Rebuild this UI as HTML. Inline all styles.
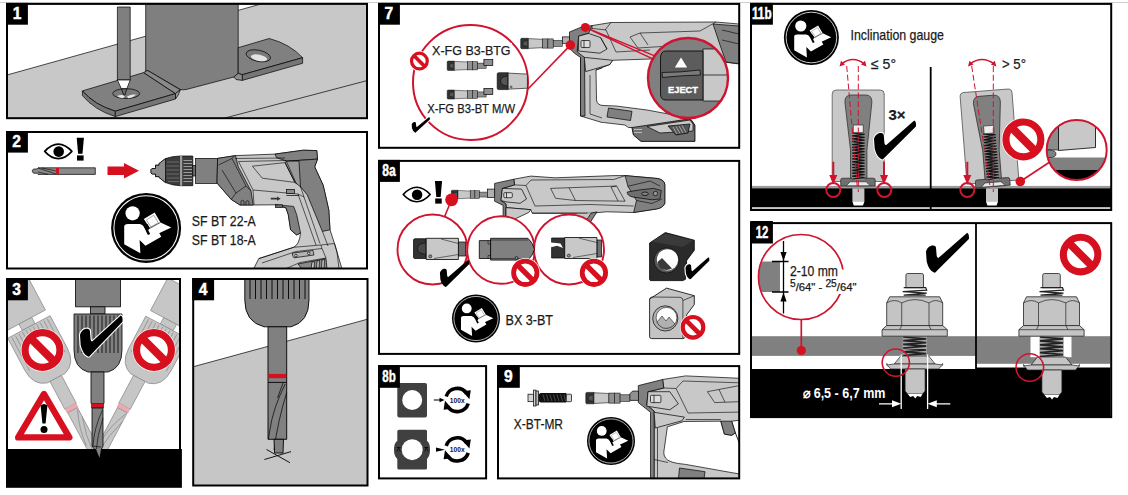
<!DOCTYPE html>
<html lang="en">
<head>
<meta charset="utf-8">
<title>Instruction panels</title>
<style>
html,body{margin:0;padding:0;background:#fff;}
body{width:1128px;height:495px;overflow:hidden;font-family:"Liberation Sans",sans-serif;}
svg{display:block;}
text{font-family:"Liberation Sans",sans-serif;}
.num{font-weight:bold;fill:#fff;font-size:15.6px;stroke:#fff;stroke-width:0.45;}
.t{fill:#1a1a1a;stroke:#1a1a1a;stroke-width:0.25;}
.frame{fill:none;stroke:#000;stroke-width:2;}
.k{stroke:#000;stroke-width:0.7;}
.r{stroke:#cf1430;fill:none;}
</style>
</head>
<body>
<svg width="1128" height="495" viewBox="0 0 1128 495">
<defs>
  <!-- checkmark 43x40 -->
  <path id="chk" d="M0,19 C1,15 4,12.5 7.3,12.8 C9,13 10,14 10,15 L10.7,23.3 Q11,25 12.3,25.3 L41.2,0 Q43.5,1 42.9,6.1 L11.2,37.8 Q9.5,40 8.4,40 Q3,38 0.7,28.9 Z"/>
  <!-- prohibition, unit radius 1 -->
  <g id="no">
    <circle r="1" fill="#fff"/>
    <circle r="0.83" fill="none" stroke="#d7101f" stroke-width="0.34"/>
    <path d="M-0.58,-0.58 L0.58,0.58" stroke="#d7101f" stroke-width="0.38"/>
  </g>
  <!-- book icon r=27.5 -->
  <g id="book">
    <circle r="27.5" fill="#000"/>
    <circle r="25.3" fill="none" stroke="#fff" stroke-width="0.8"/>
    <circle cx="-10.6" cy="-11.5" r="5.6" fill="#fff"/>
    <path d="M-17.2,-1 Q-17.2,-3 -14.3,-3 L-5.1,-3 Q-2.5,-2.6 -1.2,0.3 L1.4,5.6 L9.3,2.3 L11.9,6.9 L-0.5,14.1 L-5.1,9.5 L-4.5,20 L-17.2,12.8 Z" fill="#fff"/>
    <path d="M-1.8,-6.9 L6.7,-12.1 L11.3,-4.3 L19.8,-0.3 L4.3,7 L1.6,1.6 L3,0.3 Z" fill="#fff"/>
    <path d="M0.2,-6.3 L6.1,-9.9 L9.6,-4.1 L3.7,-0.7 Z" fill="#fff" stroke="#777" stroke-width="0.5"/>
    <path d="M3,0.3 L11.3,-4.3" stroke="#000" stroke-width="0.5"/>
    <path d="M-1.6,-1.5 L1,-3 L3,0.3 L0.4,1.9 Z" fill="#000"/>
  </g>
  <!-- eye + exclamation; origin = eye center -->
  <g id="eye">
    <path d="M-13.6,0 Q-7,-7.3 0,-7.3 Q7,-7.3 13.6,0 Q7,7.3 0,7.3 Q-7,7.3 -13.6,0 Z" fill="#fff" stroke="#000" stroke-width="1.7" stroke-linejoin="round"/>
    <circle cx="0.4" cy="0.2" r="5.3" fill="#000"/>
    <path d="M18.4,-13.6 L25.6,-13.6 L24.2,2.4 L19.8,2.4 Z" fill="#000"/>
    <rect x="18.7" y="4" width="6.6" height="5.2" fill="#000"/>
  </g>
<g id="ng">
    <path d="M1.2,0 H7.7 V10.4 H1.2 Q0,10.4 0,9.2 V1.2 Q0,0 1.2,0 Z" fill="#333" stroke="#000" stroke-width="0.5"/>
    <path d="M6.5,2.4 Q2.2,2.6 2.2,5.2 Q2.2,7.8 6.5,8" fill="#555" stroke="#000" stroke-width="0.4"/>
    <path d="M7.7,0.3 L21.9,1 V9.4 L7.7,10.1 Z" fill="#c8c8c8" stroke="#000" stroke-width="0.5"/>
    <rect x="21.9" y="0.6" width="5.3" height="9.2" fill="#909090" stroke="#000" stroke-width="0.5"/>
    <rect x="27.2" y="0.6" width="5.3" height="9.2" fill="#909090" stroke="#000" stroke-width="0.5"/>
    <rect x="32.5" y="2.2" width="9.2" height="5.9" fill="#909090" stroke="#000" stroke-width="0.5"/>
  </g>
  <g id="ngbig">
    <path d="M1.5,0 H11 V16.9 H1.5 Q0,16.9 0,15.4 V1.5 Q0,0 1.5,0 Z" fill="#333" stroke="#000" stroke-width="0.6"/>
    <path d="M10,3.6 Q3.4,4 3.4,8.4 Q3.4,12.8 10,13.2" fill="#555" stroke="#000" stroke-width="0.5"/>
    <path d="M11,0.4 L30.2,1.4 V15.5 L11,16.5 Z" fill="#c8c8c8" stroke="#000" stroke-width="0.6"/>
    <circle cx="14" cy="14.2" r="1" fill="#999" stroke="#000" stroke-width="0.4"/>
  </g>
<g id="rot">
    <path d="M-11,-3.5 A11.5,11.5 0 0 1 9.5,-6.5" fill="none" stroke="#000" stroke-width="3.6"/>
    <path d="M5.2,-8.8 L13.6,-9.8 L12.2,-0.8 Z" fill="#000"/>
    <path d="M11,3.5 A11.5,11.5 0 0 1 -9.5,6.5" fill="none" stroke="#000" stroke-width="3.6"/>
    <path d="M-5.2,8.8 L-13.6,9.8 L-12.2,0.8 Z" fill="#000"/>
    <text x="-7.4" y="2.6" font-size="7.4" font-weight="bold" fill="#1a1040" textLength="14.8" lengthAdjust="spacingAndGlyphs">100x</text>
  </g>
<g id="gauge">
    <path d="M-26,-4.5 V-92 Q-26,-96 -22,-96 H22 Q26,-96 26,-92 V-4.5 Z" fill="#c8c8c8" stroke="#555" stroke-width="0.8"/>
    <path d="M-13.3,-84 Q-13.3,-91 -7,-91 H7.5 Q13.7,-91 13.7,-84 L8.7,-36 V-7 H-7.7 V-36 Z" fill="#808080" stroke="#333" stroke-width="0.8"/>
    <path d="M-17.5,0 V-6 Q-17.5,-7.8 -15.5,-7.8 H15 Q17,-7.8 17,-6 V0 Z" fill="#707070" stroke="#222" stroke-width="0.7"/>
    <path d="M-12,-0.2 L-8,-4.2 H8 L12,-0.2 Z" fill="#e8e8e8" stroke="#222" stroke-width="0.6"/>
    <rect x="-6.2" y="-53.3" width="12.6" height="47" fill="#8a8a8a"/>
    <path d="M-6,-53 L6.4,-51.6 L-6,-50.1 L6.4,-48.7 L-6,-47.2 L6.4,-45.8 L-6,-44.4 L6.4,-42.9 L-6,-41.5 L6.4,-40.1 L-6,-38.6 L6.4,-37.2 L-6,-35.8 L6.4,-34.3 L-6,-32.9 L6.4,-31.4 L-6,-30.0 L6.4,-28.6 L-6,-27.1 L6.4,-25.7 L-6,-24.2 L6.4,-22.8 L-6,-21.4 L6.4,-19.9 L-6,-18.5 L6.4,-17.1 L-6,-15.6 L6.4,-14.2 L-6,-12.8 L6.4,-11.3 L-6,-9.9 L6.4,-8.4 L-6,-7.0 " fill="none" stroke="#111" stroke-width="1.2"/>
    <rect x="-5" y="-61" width="10" height="7.7" fill="#eee" stroke="#333" stroke-width="0.7"/>
  </g>
<g id="nut">
    <!-- origin: center x, y = band top (336.2) -->
    <path d="M-8.8,-48.5 V-61 Q-8.8,-62.7 -7,-62.7 H7 Q8.8,-62.7 8.8,-61 V-48.5 Z" fill="#c4c4c4" stroke="#222" stroke-width="0.8"/>
    <path d="M-11,-48.5 H11 L12,-46 L-12,-44.5 L12,-43 L-11,-41 H11" fill="none" stroke="#222" stroke-width="1.2"/>
    <path d="M-25,-39.4 L-28,-33.3 V-10.6 H28 V-33.3 L25,-39.4 Z" fill="#c4c4c4" stroke="#222" stroke-width="0.8"/>
    <path d="M-13,-10.6 V-33.3 Q-20,-38 -28,-33.3 M14.3,-10.6 V-33.3 Q21,-38 28,-33.3 M-13,-33.3 Q0,-40 14.3,-33.3" fill="none" stroke="#222" stroke-width="0.7"/>
    <path d="M-32.6,0 V-6.5 L-28,-10.6 H28 L32.6,-6.5 V0 Z" fill="#c4c4c4" stroke="#222" stroke-width="0.8"/>
    <path d="M-32.6,-6.5 H32.6 M-13,-10.6 L-15,-6.5 M14.3,-10.6 L16.5,-6.5" fill="none" stroke="#222" stroke-width="0.7"/>
  </g>
</defs>
<rect width="1128" height="495" fill="#fff"/>
<line x1="0" y1="2.5" x2="1128" y2="2.5" stroke="#cfcfcf" stroke-width="1"/>

<!-- ================= PANEL 1 ================= -->
<g id="p1">
  <clipPath id="c1"><rect x="7" y="4.5" width="360" height="113.5"/></clipPath>
  <g clip-path="url(#c1)">
    <polygon points="7,75 261,4 367,4 367,119 7,119" fill="#c8c8c8"/>
    <path d="M7,75 L261,4" class="k" fill="none"/>
    <path d="M367,80.6 L225,118" class="k" fill="none"/>
    <!-- column -->
    <path d="M145.7,4 L238.2,4 L238.2,73.3 L233.8,77 L187,89.3 Q182,90.2 180.3,89.5 L147.8,70.6 L145.7,71.2 Z" fill="#7f7f7f" class="k"/>
    <!-- right plate -->
    <path d="M238.2,47.7 L269.2,38.5 Q290,44 302.6,57.7 L242.3,74.7 L238.2,73.3 Z" fill="#808080" class="k"/>
    <path d="M302.6,57.7 L302.6,63.3 L242.3,80.4 L242.3,74.7 Z" fill="#767676" class="k"/>
    <path d="M242.3,74.7 L242.3,80.4 L236,79.5 L233.8,77 L238.2,73.3 Z" fill="#8c8c8c" class="k"/>
    <ellipse cx="258.3" cy="55.8" rx="12.4" ry="5.6" transform="rotate(12 258.3 55.8)" fill="#7a7a7a" class="k"/>
    <ellipse cx="259" cy="57.8" rx="8.2" ry="3.2" transform="rotate(12 259 57.8)" fill="#e4e4e4"/>
    <!-- left plate -->
    <path d="M82.4,90.9 L143.7,72.6 L175.5,93.6 L115.3,111.2 Q94.4,105 82.4,90.9 Z" fill="#808080" class="k"/>
    <path d="M82.4,90.9 Q94.4,105 115.3,111.2 L115.3,116.6 Q94.4,110 82.4,95.6 Z" fill="#767676" class="k"/>
    <path d="M115.3,111.2 L175.5,93.6 L175.5,99 L115.3,116.6 Z" fill="#767676" class="k"/>
    <path d="M143.7,72.6 L145.8,71.2 L147.8,70.6 L180.3,89.8 L175.5,93.6 Z" fill="#8a8a8a" class="k"/>
    <path d="M175.5,93.6 L180.3,89.8 L178.3,94.9 L175.5,99 Z" fill="#999" class="k"/>
    <!-- hole -->
    <ellipse cx="126.2" cy="93.6" rx="13.5" ry="4.9" fill="#7a7a7a" class="k"/>
    <path d="M117,96 Q122,94 125,96 L123,98.2 Q119,98 117,96 Z" fill="#e8e8e8"/>
    <path d="M127,96.5 Q131,94 136,94.5 Q134,97.5 128,98.2 Z" fill="#e8e8e8"/>
    <!-- pencil -->
    <path d="M117.4,7 L130.2,7 L130.2,80 L117.4,80 Z" fill="#7f7f7f" class="k"/>
    <path d="M117.4,80 L130.2,80 L126.8,88.8 L121.4,88.8 Z" fill="#fff" class="k"/>
    <path d="M121.4,88.8 L126.8,88.8 L125,95 L123.6,95 Z" fill="#6a6a6a" class="k"/>
  </g>
  <rect x="7" y="3.9" width="360" height="114.3" class="frame"/>
  <rect x="6" y="2.9" width="21.9" height="21.8" fill="#000"/>
  <text x="17" y="19.1" class="num" text-anchor="middle">1</text>
</g>

<!-- ================= PANEL 2 ================= -->
<g id="p2">
  <clipPath id="c2"><rect x="7" y="132" width="360" height="136.5"/></clipPath>
  <g clip-path="url(#c2)">
    <!-- drill bit -->
    <path d="M32,171 L33.5,169 L37,169 L38,167.8 L95.3,167.8 L95.3,174.4 L38,174.4 L37,173.2 L33.5,173.2 Z" fill="#8a8a8a" class="k"/>
    <path d="M38,168 L56,174 M42,168 L56,171 M38,172 L48,174.4" stroke="#000" stroke-width="0.6" fill="none"/>
    <rect x="56" y="168" width="3" height="6.2" fill="#d7101f"/>
    <!-- red arrow -->
    <path d="M107.5,166.5 L124,166.5 L124,163 L139,170.8 L124,178.5 L124,175 L107.5,175 Z" fill="#d7101f"/>
    <!-- chuck -->
    <path d="M151,169.5 L152,168.5 L155.5,168.5 L155.5,165.2 L159,165.2 L159,163.6 L165.5,158.6 Q172,156.2 180,156 L192.8,156 L192.8,185.7 L180,185.7 Q172,185.4 165.5,182.6 L159,177.4 L159,176.6 L155.5,176.6 L155.5,174 L152,174 L151,173 Z" fill="#3c3c3c" class="k"/>
    <path d="M151,169.5 L152,168.5 L155.5,168.5 L155.5,165.2 L159,165.2 L159,163.6 L165.5,158.6 L165.5,182.6 L159,177.4 L159,176.6 L155.5,176.6 L155.5,174 L152,174 L151,173 Z" fill="#8c8c8c" class="k"/>
    <rect x="180" y="156" width="2.2" height="29.7" fill="#9a9a9a"/>
    <g stroke="#9a9a9a" stroke-width="1.1">
      <path d="M183.5,160.5 H192 M183.5,163.5 H192 M183.5,166.5 H192 M183.5,169.5 H192 M183.5,172.5 H192 M183.5,175.5 H192 M183.5,178.5 H192 M183.5,181.5 H192"/>
      <path d="M167,162 H179 M166.5,166 H179 M166.5,170 H179 M166.5,174 H179 M167,178 H179 M168,181.5 H179" stroke-width="0.8" stroke="#777"/>
    </g>
    <rect x="192.8" y="165.5" width="3" height="10.5" fill="#6e6e6e" class="k"/>
    <rect x="195.6" y="158.4" width="22" height="25" fill="#808080" class="k"/>
    <!-- body silhouette light -->
    <path d="M217.6,158.4 L235.5,155.6 L275,154.1 L303.4,150.2 L316.8,150.6 L317.5,159.1 L314.7,166.9 L323.2,185.3 L328.8,210 L330,229.8 L334.5,243.5 L342,269 L253.5,269 L258.8,258.6 L293.6,247.3 Q299.5,244.5 300.5,232.9 L296.7,235 L290.6,229.8 L288.3,214.7 L286,207.9 L275.5,204.8 L253.1,205 L240,205 L231.2,199.4 L217,183 Z" fill="#c8c8c8" class="k"/>
    <!-- front dark -->
    <path d="M217.6,158.4 L235.5,155.6 L238.3,166.9 L251,190.9 L253.1,205 L240,205 L231.2,199.4 L217,183 Z" fill="#808080" class="k"/>
    <path d="M218.5,165 L232,158.5 L234,156 M232,158.5 L246,186 L251,190.9 M246,186 L236,193 L231.2,199.4 M222,170 L236,193" stroke="#000" stroke-width="0.6" fill="none"/>
    <path d="M241,205 L241,201 Q242.5,199.5 244,201 L244,205 M246,205 L246,201.5 Q247.5,200 249,201.5 L249,205" stroke="#000" stroke-width="0.6" fill="none"/>
    <!-- top cap -->
    <path d="M275,154.1 L303.4,150.2 L316.8,150.6 L317.5,159.1 L287,161.2 L276.5,157.7 Z" fill="#808080" class="k"/>
    <!-- rear dark -->
    <path d="M287,161.2 L317.5,159.1 L314.7,166.9 L323.2,185.3 L328.8,210 L330,229.8 L322.4,231.4 L307.3,195 L300.5,186.7 Z" fill="#808080" class="k"/>
    <path d="M287,161.2 L299,161 L300.5,186.7 L294.9,182.4 L285,162.6 Z" fill="#9a9a9a" class="k"/>
    <!-- panel lines -->
    <path d="M235.5,158.5 L285,158 M238.5,161.5 L286,160.5 L296.5,184 M238.5,161.5 L250,184 L253,190 L298,194 L304,197 M252.4,166.2 L285,162.6 L294.9,182.4 L262.3,178.2 Z M253,190 L254,205 M300.5,186.7 L304,197 L320,243.5 M298,194 L316,245 M322.4,231.4 L328,246" stroke="#000" stroke-width="0.6" fill="none"/>
    <!-- button + arrow -->
    <rect x="286.4" y="189.5" width="8" height="4" fill="#8c8c8c" class="k"/>
    <path d="M286.4,195.5 H299" class="k" fill="none"/>
    <path d="M270.8,197.8 H277 V196.6 L280.7,198.7 L277,200.8 V199.6 H270.8 Z" fill="#333"/>
    <!-- trigger -->
    <path d="M275.5,204.8 L293.6,206.4 L296.7,214.7 L300.5,232.9 L296.7,235 L290.6,229.8 L288.3,214.7 L286,207.9 Z" fill="#808080" class="k"/>
    <rect x="275.5" y="204.8" width="7" height="2.6" fill="#6e6e6e" class="k"/>
    <!-- base -->
    <path d="M258.8,258.6 L293.6,247.3 L320.9,245 L334.5,243.5 M262,263 L296,251.5 L322,248.5 L326,258 L300,262.5 L285,269 M322,248.5 L320.9,245 M334.5,243.5 L337,252 L339,269" stroke="#000" stroke-width="0.6" fill="none"/>
    <path d="M292.5,253 L313,250.5 L314,255 L294,257.8 Q292,256 292.5,253 Z" fill="#b4b4b4" class="k"/>
    <circle cx="295.9" cy="255.6" r="1.3" fill="#ddd" class="k"/><circle cx="308.8" cy="253.3" r="1.3" fill="#ddd" class="k"/>
    <path d="M298,264 L326,258.5 L327,269 L302,269 Z" fill="#8a8a8a" class="k"/>
    <path d="M312,262 L314.5,261.5 L314,269 L311,269 Z M317,261 L319.5,260.5 L319,269 L316.5,269 Z M322,260 L324.5,259.5 L324,269 L321.5,269 Z" fill="#c8c8c8" class="k"/>
  </g>
  <use href="#eye" transform="translate(58.3,151.4)"/>
  <use href="#book" transform="translate(146.1,227.9) scale(1.273)"/>
  <text x="191.8" y="225.8" class="t" font-size="14.8" textLength="64" lengthAdjust="spacingAndGlyphs">SF BT 22-A</text>
  <text x="191.8" y="245.3" class="t" font-size="14.8" textLength="64" lengthAdjust="spacingAndGlyphs">SF BT 18-A</text>
  <rect x="7" y="132" width="360" height="136.5" class="frame"/>
  <rect x="6" y="131" width="21.9" height="21.6" fill="#000"/>
  <text x="16.7" y="147.1" class="num" text-anchor="middle">2</text>
</g>

<!-- ================= PANEL 3 ================= -->
<g id="p3">
  <clipPath id="c3"><rect x="7" y="279" width="174" height="208"/></clipPath>
  <g clip-path="url(#c3)">
    <g transform="rotate(-28 97.5 457) translate(0,-4)" fill="#c6c6c6" stroke="#8a8a8a" stroke-width="0.7">
      <path d="M75.5,270 H120.5 V306.8 H75.5 Z"/>
      <path d="M90.5,306.8 H105 V314 H90.5 Z"/>
      <path d="M74,314 L122,314 L122,350 Q122,368 108,372 L88,372 Q74,368 74,350 Z"/>
      <path d="M78,315.5 V353 M82,315.5 V353 M86,315.5 V353 M90,315.5 V353 M94,315.5 V353 M98,315.5 V353 M102,315.5 V353 M106,315.5 V353 M110,315.5 V353 M114,315.5 V353 M118,315.5 V353" fill="none"/>
      <path d="M91,372 H104 V403.5 H91 Z"/>
      <path d="M91,403.5 H104 V408 H91 Z" fill="#f2a6b0" stroke="none"/>
      <path d="M92,408 H103 V450 L100,461 H96 L92,450 Z"/>
      <path d="M102,410 Q94,428 93,446 M103,418 Q97,436 96,455" fill="none"/>
    </g>
    <g transform="rotate(28 97.5 457) translate(0,-4)" fill="#c6c6c6" stroke="#8a8a8a" stroke-width="0.7">
      <path d="M75.5,270 H120.5 V306.8 H75.5 Z"/>
      <path d="M90.5,306.8 H105 V314 H90.5 Z"/>
      <path d="M74,314 L122,314 L122,350 Q122,368 108,372 L88,372 Q74,368 74,350 Z"/>
      <path d="M78,315.5 V353 M82,315.5 V353 M86,315.5 V353 M90,315.5 V353 M94,315.5 V353 M98,315.5 V353 M102,315.5 V353 M106,315.5 V353 M110,315.5 V353 M114,315.5 V353 M118,315.5 V353" fill="none"/>
      <path d="M91,372 H104 V403.5 H91 Z"/>
      <path d="M91,403.5 H104 V408 H91 Z" fill="#f2a6b0" stroke="none"/>
      <path d="M92,408 H103 V450 L100,461 H96 L92,450 Z"/>
      <path d="M102,410 Q94,428 93,446 M103,418 Q97,436 96,455" fill="none"/>
    </g>
    <g fill="#808080" stroke="#000" stroke-width="0.8">
      <path d="M75.5,270 H120.5 V306.8 H75.5 Z"/>
      <path d="M90.5,306.8 H105 V314 H90.5 Z"/>
      <path d="M74,314 L122,314 L122,350 Q122,368 108,372 L88,372 Q74,368 74,350 Z"/>
      <path d="M78,315.5 V353 M82,315.5 V353 M86,315.5 V353 M90,315.5 V353 M94,315.5 V353 M98,315.5 V353 M102,315.5 V353 M106,315.5 V353 M110,315.5 V353 M114,315.5 V353 M118,315.5 V353" fill="none"/>
      <path d="M91,372 H104 V403.5 H91 Z"/>
      <path d="M91,403.5 H104 V408 H91 Z" fill="#d7101f" stroke="none"/>
      <path d="M92,408 H103 V446 L101,450 L99.5,458 H96 L95,450 L92,446 Z"/>
      <path d="M102.5,410 Q94,428 93,446 M103,418 Q97,436 96,452 M92,446 L101,447" fill="none" stroke-width="0.6"/>
    </g>
    <rect x="6" y="449" width="176" height="39" fill="#000"/>
    <path d="M96,449 L99.5,458 L101,449 Z" fill="#808080"/>
    <use href="#chk" transform="translate(80,315.5) scale(0.99,1.03)" fill="#fff" stroke="#fff" stroke-width="2.2" stroke-linejoin="round"/>
    <use href="#chk" transform="translate(80,315.5) scale(0.99,1.03)" fill="#000"/>
    <circle cx="42.5" cy="350" r="21.6" fill="#fff"/>
    <use href="#no" transform="translate(42.5,350) scale(21)"/>
    <circle cx="154" cy="350" r="21.6" fill="#fff"/>
    <use href="#no" transform="translate(154,350) scale(21)"/>
    <path d="M44,394 L69.3,437.4 L18.2,437.4 Z" fill="#fff" stroke="#d7101f" stroke-width="6.4" stroke-linejoin="round"/>
    <path d="M40.6,405.5 Q44,402.5 47.4,405.5 L45.6,423.5 L42.4,423.5 Z" fill="#000"/>
    <circle cx="44" cy="429.5" r="3.5" fill="#000"/>
  </g>
  <path d="M7,449 V279 H180 V449" class="frame"/>
  <rect x="6" y="449" width="175.9" height="38.8" fill="#000"/>
  <path d="M96,449 L99.5,458 L101,449 Z" fill="#808080"/>
  <rect x="6" y="278" width="21.9" height="22.3" fill="#000"/>
  <text x="16.7" y="294.6" class="num" text-anchor="middle">3</text>
</g>

<!-- ================= PANEL 4 ================= -->
<g id="p4">
  <clipPath id="c4"><rect x="193" y="279" width="174.5" height="207"/></clipPath>
  <g clip-path="url(#c4)">
    <polygon points="193,366.8 367.5,319.2 367.5,487 193,487" fill="#c6c6c6"/>
    <path d="M193,366.8 L367.5,319.2" class="k" fill="none"/>
    <path d="M244.8,270 L309,270 L309,300 Q309,322 291,326.8 L264,326.8 Q244.8,322 244.8,300 Z" fill="#808080" stroke="#000" stroke-width="0.9"/>
    <path d="M250.0,279 V299 M255.5,279 V299 M261.0,279 V299 M266.5,279 V299 M272.0,279 V299 M277.5,279 V299 M283.0,279 V299 M288.5,279 V299 M294.0,279 V299 M299.5,279 V299 M305.0,279 V299" stroke="#000" stroke-width="0.9" fill="none"/>
    <path d="M268,326.8 H286.7 V439.3 H268 Z" fill="#808080" stroke="#000" stroke-width="0.9"/>
    <rect x="268.4" y="373.9" width="17.9" height="4.3" fill="#d7101f"/>
    <path d="M268,382.4 H286.7" stroke="#000" stroke-width="0.9"/>
    <path d="M285.2,384 Q273,408 269.7,430.8 M286.7,392.6 Q278,420 274,450 M269.7,430.8 L268.5,439 M283,383 L277.5,398" stroke="#000" stroke-width="0.7" fill="none"/>
    <path d="M274,439.3 H283.5 L283,453 H274.6 Z" fill="#808080" stroke="#000" stroke-width="0.9"/>
    <path d="M264.4,459.5 L291,451.6 M266.5,449.5 L289.9,462.7" stroke="#000" stroke-width="0.9"/>
  </g>
  <rect x="193.2" y="279" width="174.3" height="206.5" class="frame"/>
  <rect x="192.2" y="278" width="21.9" height="22.3" fill="#000"/>
  <text x="203" y="294.6" class="num" text-anchor="middle">4</text>
</g>

<!-- ================= PANEL 7 ================= -->
<g id="p7">
  <clipPath id="c7"><rect x="379" y="4.5" width="359.5" height="143"/></clipPath>
  <clipPath id="c7e"><circle cx="688" cy="78" r="40"/></clipPath>
  <g clip-path="url(#c7)">
    <!-- tool body -->
    <path d="M592,25.6 L611,22.5 L716,22 L739,24 L739,64 L724,62 L650,59 L612.6,60.3 L609.8,64.5 L596,70 L596.5,100 Q597,105 603,105.5 L616,106 L647,110 L690,118 L694.8,125 L694.8,141.3 L641,141.3 L633.5,135 L632,127.5 L628.5,127.5 L624.8,125 L603.5,122.5 L602,122.5 L580.5,116 L580.5,57 L577.2,51.8 L578.6,36.2 L592,28.4 Z" fill="#c8c8c8" class="k"/>
    <!-- nose dark -->
    <path d="M569.5,32 L581.5,27 L592,25.6 L588.5,33.4 L578.6,36.2 L577.2,51.8 L584.5,57.4 L585,116 L580.5,116 L580.5,57.4 L574.4,53.2 L569.5,48.2 Z" fill="#808080" class="k"/>
    <path d="M578.6,36.2 L588.5,33.4 L600.6,37.6 L607,49 L599.9,53.2 L578.6,51 Z" fill="#c8c8c8" class="k"/>
    <rect x="581" y="40.5" width="9" height="7" rx="1" fill="#ddd" class="k"/>
    <path d="M584,40.5 V47.5" class="k"/>
    <path d="M584.3,57.4 L612.6,60.3 L609.8,64.5 L585.7,71.6 Z" fill="#c8c8c8" class="k"/>
    <!-- body lines -->
    <path d="M592,28.4 L606,30 L616,52 L650,50 M600.6,37.6 L607,49 M611,22.5 L605,30 M630,37 L640,33 L700,31 L716,22 M630,37 L638,48 L670,46 M640,33 L648,45 M596,70 L602,68 M590,75 V114 L602,118" stroke="#000" stroke-width="0.6" fill="none"/>
    <!-- rear dark -->
    <path d="M713,24 L739,26 L739,63.7 L726,62 L720,45 Z" fill="#808080" class="k"/>
    <path d="M722,30 L739,34 M722,40 L739,44" stroke="#000" stroke-width="0.6"/>
    <!-- label -->
    <path d="M608.5,108 L632,111.3 L630.5,120.5 L607,117 Z" fill="#808080" class="k"/>
    <!-- battery -->
    <path d="M632,127.5 L689.8,118.8 L694.8,125 L694.8,141.3 L641,141.3 L633.5,135 Z" fill="#707070" class="k"/>
    <path d="M647,126.5 L690,120 L693,124 L693,131 L660,133 Z" fill="#c8c8c8" class="k"/>
    <path d="M634,129.5 H642 M634,132.5 H642" stroke="#bbb" stroke-width="1"/>
    <path d="M668,126 L676,135 L688,133 L690,124 Z" fill="#555" class="k"/>
    <path d="M673,127 L677,134 M676,126.5 L680,133.5 M679,126 L683,133 M682,125.5 L686,132.5" stroke="#ccc" stroke-width="0.7"/>
    <!-- nail guide on tool -->
    <rect x="562.4" y="36.9" width="7.1" height="6.4" fill="#b0b0b0" class="k"/>
    <use href="#ng" transform="translate(520.7,38.3)"/>
    <!-- connecting lines -->
    <path d="M570.4,45.1 L527.5,89.5" stroke="#cf1430" stroke-width="1.6"/>
    <path d="M585.3,27.4 L654.7,55.9 M585.3,27.4 L652.8,58.9" stroke="#cf1430" stroke-width="1.5"/>
    <circle cx="585.3" cy="27.4" r="4.5" fill="#d7101f"/>
    <circle cx="570.4" cy="45.1" r="4.8" fill="#d7101f"/>
    <!-- EJECT circle -->
    <circle cx="688" cy="78" r="40" fill="#808080"/>
    <g clip-path="url(#c7e)">
      <path d="M703,49 H730 V101 H703 Z" fill="#c8c8c8" stroke="#000" stroke-width="0.7"/>
      <path d="M703,75 H730" stroke="#000" stroke-width="0.7"/>
      <path d="M666,51 H703 V100 H666 Q660.5,100 660.5,94 V58 Q660.5,51 666,51 Z" fill="#5c5c5c" stroke="#000" stroke-width="0.8"/>
      <path d="M662,72.5 Q680,72.5 700,70 L700.5,75 Q680,75.5 662.5,77.5 Z" fill="#7a7a7a" stroke="#000" stroke-width="0.7"/>
      <path d="M681,57.5 L687.2,67.5 L674.8,67.5 Z" fill="#fff"/>
      <text x="668" y="92.6" font-size="8.2" font-weight="bold" fill="#fff" stroke="#fff" stroke-width="0.35" textLength="30" lengthAdjust="spacingAndGlyphs">EJECT</text>
    </g>
    <circle cx="688" cy="78" r="40" fill="none" stroke="#cf1430" stroke-width="2.4"/>
  </g>
  <!-- left circle -->
  <circle cx="470.5" cy="82.5" r="57.5" fill="none" stroke="#cf1430" stroke-width="2"/>
  <use href="#ng" transform="translate(447.2,61.1) scale(0.934,0.9)"/>
  <rect x="483.9" y="59.6" width="8.9" height="6" fill="#909090" class="k"/>
  <use href="#ng" transform="translate(447.2,90) scale(0.934,0.87)"/>
  <rect x="483.9" y="88.5" width="8.9" height="6" fill="#909090" class="k"/>
  <use href="#ngbig" transform="translate(497.2,72.7)"/>
  <circle cx="419.4" cy="61.1" r="10.3" fill="#fff"/>
  <use href="#no" transform="translate(419.4,61.1) scale(9.5)"/>
  <use href="#chk" transform="translate(411.7,117.1) scale(0.423,0.39)" fill="#fff" stroke="#fff" stroke-width="5"/>
  <use href="#chk" transform="translate(411.7,117.1) scale(0.423,0.39)" fill="#000"/>
  <rect x="430" y="43" width="82" height="14" fill="#fff"/>
  <rect x="425" y="102" width="92" height="13.5" fill="#fff"/>
  <text x="432.1" y="54.9" class="t" font-size="13.7" textLength="78.5" lengthAdjust="spacingAndGlyphs">X-FG B3-BTG</text>
  <text x="427.2" y="113.3" class="t" font-size="13.7" textLength="87.8" lengthAdjust="spacingAndGlyphs">X-FG B3-BT M/W</text>
  <rect x="379" y="3.9" width="360.2" height="143.9" class="frame"/>
  <rect x="378" y="2.9" width="21.9" height="21.8" fill="#000"/>
  <text x="388.8" y="19.1" class="num" text-anchor="middle">7</text>
</g>

<!-- ================= PANEL 8a ================= -->
<g id="p8a">
  <clipPath id="c8a"><rect x="379" y="161" width="360" height="192"/></clipPath>
  <g clip-path="url(#c8a)">
    <!-- tool -->
    <path d="M513.8,179.2 L530.8,176.1 L554.9,177.8 L613.8,175.6 L625.1,175.6 L657.7,178.5 Q664.8,180 664.8,184.9 L664.8,203.3 Q663,208 656.3,209 L633.6,212.5 L606.7,211.8 L591,213.2 L532.2,213.2 L530.8,209.7 L506,207.6 L506,204 L501,200.5 L502.4,188.4 L514.5,184.9 Z" fill="#c8c8c8" class="k"/>
    <path d="M591,213.2 L586.8,219.6 L590,245 L578,245 L577,213.2 Z" fill="#c8c8c8"/>
    <path d="M494.6,183.4 L513.8,179.2 L514.5,184.9 L502.4,188.4 L501,200.5 L506,204 L505.2,245 L503.1,245 L503.1,205.4 L494.6,201.2 Z" fill="#808080" class="k"/>
    <path d="M502.4,188.4 L521.6,189.1 L526.5,199 L520.1,203.3 L506,201.9 L501,200.5 Z" fill="#c8c8c8" class="k"/>
    <rect x="503.8" y="192.7" width="8.5" height="5" rx="1" fill="#ddd" class="k"/>
    <path d="M506.5,192.7 V197.7" class="k"/>
    <path d="M506,207.6 L530.8,209.7 L528.7,212.5 L516.6,218.2 L506,222 Z" fill="#c8c8c8" class="k"/>
    <path d="M514.5,184.9 L526,185.5 L535,206 L590,204.5 L633.6,206 M526,185.5 L531,180 L613.8,179.5 L625.1,175.6 M550.6,188.4 L616.6,186 L625.1,201.2 L575.5,200.5 L555.6,198.3 Z M569,187.8 L575.5,200.5 M616.6,186 L611,187 L618,201 M532.2,213.2 L587.5,213.2" stroke="#000" stroke-width="0.6" fill="none"/>
    <path d="M591,213.2 L597,211.9 L590.5,222 L594,245 L590,245 L586.8,219.6 Z" fill="#808080" class="k"/>
    <!-- rear dark -->
    <path d="M625.1,175.6 L657.7,178.5 Q664.8,180 664.8,184.9 L664.8,203.3 Q663,208 656.3,209 L633.6,212.5 L636.5,200.5 L627.9,186.3 Z" fill="#808080" class="k"/>
    <path d="M627.2,192 Q640,189.5 653.5,188.4 L661.3,190.5 L659.9,199 L652,199.8 L632.2,196.9 Q627,195.5 627.2,192 Z" fill="#6e6e6e" class="k"/>
    <ellipse cx="645" cy="193.8" rx="3.4" ry="1.8" fill="#808080" class="k"/>
    <circle cx="655.5" cy="193.5" r="2.2" fill="#999" class="k"/>
    <path d="M627.9,186.3 L650,181 L660,186 M636.5,200.5 L652,203.5 L662,199" stroke="#000" stroke-width="0.6" fill="none"/>
    <!-- nail guide -->
    <rect x="487.5" y="189.1" width="7.1" height="8.5" fill="#b0b0b0" class="k"/>
    <use href="#ng" transform="translate(451.3,190.2) scale(0.868,0.846)"/>
    <!-- red dot + line -->
    <path d="M451.6,199.8 L444,218" stroke="#cf1430" stroke-width="1.6"/>
    <circle cx="451.6" cy="199.8" r="6.4" fill="#d7101f"/>
    <!-- circles -->
    <circle cx="432.5" cy="249.5" r="35" fill="#fff" stroke="#cf1430" stroke-width="1.9"/>
    <circle cx="501" cy="250" r="33.8" fill="#fff" stroke="#cf1430" stroke-width="1.9"/>
    <circle cx="569" cy="249.5" r="35" fill="#fff" stroke="#cf1430" stroke-width="1.9"/>
    <!-- item 1 -->
    <rect x="458.4" y="242" width="7.2" height="14" fill="#707070" class="k"/>
    <path d="M415,238.7 H426.2 V258.5 H415 Q413.5,258.5 413.5,257 V240.2 Q413.5,238.7 415,238.7 Z" fill="#333" class="k"/>
    <path d="M425.5,243 Q417.5,243.5 417.5,248.6 Q417.5,253.7 425.5,254.2" fill="#4a4a4a" stroke="#000" stroke-width="0.5"/>
    <path d="M426.2,238.3 H458.4 V259.5 H426.2 Z" fill="#c8c8c8" stroke="#000" stroke-width="0.8"/>
    <path d="M441,239 L458.4,243.5 M434,258.5 L458.4,254.5" stroke="#000" stroke-width="0.5"/>
    <circle cx="430.3" cy="256.3" r="1.5" fill="#999" stroke="#000" stroke-width="0.6"/>
    <!-- item 2 -->
    <path d="M479.3,240.6 H490.6 V258.5 H479.3 Z" fill="#808080" stroke="#000" stroke-width="0.8"/>
    <path d="M490.6,238.3 H528 Q533,243 534.5,249.2 Q533,255.5 528,260.1 H490.6 Z" fill="#808080" stroke="#000" stroke-width="0.8"/>
    <path d="M490.6,240 H528 M490.6,258.6 H528 M488,240.6 V244 H490.6 M488,258.5 V255.5 H490.6" stroke="#000" stroke-width="0.5" fill="none"/>
    <circle cx="516.5" cy="258" r="1.5" fill="#8a8a8a" stroke="#000" stroke-width="0.6"/>
    <!-- item 3 -->
    <rect x="596.9" y="240" width="4.5" height="17" fill="#707070" class="k"/>
    <path d="M551.6,238 H564.7 V258 H551.6 Z" fill="#333" class="k"/>
    <path d="M551,242.5 L560.5,243.5 L563,248 L557,245.8 L551,247.3 Z" fill="#fff"/>
    <path d="M564.7,237.5 H596.9 V258.5 H564.7 Z" fill="#c8c8c8" stroke="#000" stroke-width="0.8"/>
    <path d="M579,238.2 L596.9,242.5 M573,257.5 L596.9,253.5" stroke="#000" stroke-width="0.5"/>
    <circle cx="568.8" cy="255.6" r="1.5" fill="#999" stroke="#000" stroke-width="0.6"/>
    <!-- marks -->
    <use href="#chk" transform="translate(439.9,260.1) scale(0.68,0.672)" fill="#000"/>
    <circle cx="525.3" cy="272.8" r="14.8" fill="#fff"/>
    <use href="#no" transform="translate(525.3,272.8) scale(14.1)"/>
    <circle cx="593.9" cy="272.8" r="14.8" fill="#fff"/>
    <use href="#no" transform="translate(593.9,272.8) scale(14.1)"/>
    <!-- black cube -->
    <path d="M649.6,243 L665.3,232.6 L694.3,240.2 L694.3,250.3 L686.7,260.4 L685.5,279.3 L682.9,280.6 L651,280.6 Q649.6,280.6 649.6,279 Z" fill="#2a2a2a" stroke="#000" stroke-width="0.8" stroke-linejoin="round"/>
    <path d="M651.5,241.4 L665.3,233.4 L693,240.5 L682.5,247 Z" fill="#3a3a3a"/>
    <circle cx="666.5" cy="260.4" r="12.6" fill="#555" stroke="#000" stroke-width="0.6"/>
    <circle cx="667.5" cy="259.8" r="10.6" fill="#fff"/>
    <path d="M657.5,262 L662,258 L672,268.5 Q666,271.5 660,268 Q657.5,265 657.5,262 Z" fill="#3a3a3a"/>
    <use href="#chk" transform="translate(685.5,257.3) scale(0.556,0.55)" fill="#fff" stroke="#fff" stroke-width="4" stroke-linejoin="round"/>
    <use href="#chk" transform="translate(685.5,257.3) scale(0.556,0.55)" fill="#000"/>
    <!-- gray cube -->
    <path d="M649.6,299 L666.5,288.1 L694.3,295.7 L694.3,304.5 L686.7,314.7 L685.5,337.4 L682.9,338.6 L651.5,338.6 Q649.6,338.6 649.6,336.6 Z" fill="#c4c4c4" stroke="#000" stroke-width="0.8" stroke-linejoin="round"/>
    <path d="M649.6,299 Q650,297 652,297 L680,297.3 Q682.9,297.5 682.9,300.5 L682.9,338.6 M682.9,300.5 L694.3,295.7" fill="none" stroke="#000" stroke-width="0.6"/>
    <circle cx="665.3" cy="318.4" r="12.6" fill="#b0b0b0" stroke="#000" stroke-width="0.7"/>
    <circle cx="666.5" cy="317.8" r="10.4" fill="#fff" stroke="#000" stroke-width="0.5"/>
    <path d="M657,322 L662,316 L666,321 L669,317 L675,324 Q670,329.5 663,328 Q658.5,326 657,322 Z" fill="#b0b0b0" stroke="#000" stroke-width="0.5"/>
    <circle cx="693" cy="327.3" r="13" fill="#fff"/>
    <use href="#no" transform="translate(693,327.3) scale(12.4)"/>
  </g>
  <use href="#eye" transform="translate(416.7,194.5) scale(0.99)"/>
  <use href="#book" transform="translate(476,318.5) scale(0.873)"/>
  <text x="505.5" y="324.8" class="t" font-size="14.8" textLength="47.5" lengthAdjust="spacingAndGlyphs">BX 3-BT</text>
  <rect x="379" y="160.9" width="360.2" height="193" class="frame"/>
  <rect x="378" y="159.9" width="21.9" height="22" fill="#000"/>
  <text x="389" y="176.4" class="num" text-anchor="middle" textLength="13.5" lengthAdjust="spacingAndGlyphs">8a</text>
</g>

<!-- ================= PANEL 8b ================= -->
<g id="p8b">
  <rect x="397.3" y="383" width="29.7" height="34.5" rx="2" fill="#404040"/>
  <circle cx="412.2" cy="400" r="10" fill="#fff"/>
  <path d="M399,429.8 H425.5 Q427,429.8 427,431.3 V440.8 Q430,443 430,449.8 Q430,456.5 427,458.9 V468 Q427,469.5 425.5,469.5 H399 Q397.3,469.5 397.3,468 V458.9 Q394,456.5 394,449.8 Q394,443 397.3,440.8 V431.3 Q397.3,429.8 399,429.8 Z" fill="#404040"/>
  <circle cx="412.2" cy="449.7" r="10.5" fill="#fff"/>
  <path d="M396.5,447.5 H400.5 M397,451.5 L398.6,447.5 L400.2,451.5 M424.3,447.5 H428.3 M424.8,451.5 L426.4,447.5 L428,451.5" stroke="#000" stroke-width="0.7" fill="none"/>
  <path d="M433.8,399.4 H439.5 V397.8 L444.6,400 L439.5,402.2 V400.6 H433.8 Z" fill="#000"/>
  <path d="M436,447.6 L445,449.7 L436,451.8 Z" fill="#000"/>
  <use href="#rot" transform="translate(457.2,400)"/>
  <use href="#rot" transform="translate(457.2,449.4)"/>
  <rect x="379" y="366.1" width="107.1" height="112.3" class="frame"/>
  <rect x="378" y="365.1" width="21.9" height="22.7" fill="#000"/>
  <text x="389" y="382" class="num" text-anchor="middle" textLength="13.5" lengthAdjust="spacingAndGlyphs">8b</text>
</g>

<!-- ================= PANEL 9 ================= -->
<g id="p9">
  <clipPath id="c9"><rect x="498" y="366" width="241" height="112.3"/></clipPath>
  <g clip-path="url(#c9)">
    <!-- tool body -->
    <path d="M662.6,379.5 L685.6,375.9 L745,378.5 L745,419.5 L731.7,421.2 L735.3,432.9 L745,460 L745,480 L654.1,480 L654.1,411 L646.8,405 L648,391.7 L663.8,388 Z" fill="#c8c8c8" class="k"/>
    <!-- handle opening -->
    <path d="M667.4,426.8 L684,421.5 L720.8,421.2 L724.4,434.1 L731.7,435.3 L735.3,432.9 L745,458 L745,475 L685.6,464.4 Q668.6,463 665.5,458 Q663.5,455 663.8,452 Z" fill="#fff" class="k"/>
    <path d="M720.8,421.2 L731.7,421.2 L735.3,432.9 L731.7,435.3 L724.4,434.1 Z" fill="#808080" class="k"/>
    <!-- nose dark -->
    <path d="M638.3,385.6 L662.6,379.5 L663.8,388 L648,391.7 L646.8,405 L654.1,411 L654.1,480 L650.5,480 L650.5,412.3 L638.3,402.6 Z" fill="#808080" class="k"/>
    <path d="M648,391.7 L669.8,391.7 L678.3,403.8 L669.8,409.8 L646.8,406.2 Z" fill="#c8c8c8" class="k"/>
    <rect x="650.5" y="395.3" width="10.4" height="7.3" rx="1" fill="#ddd" class="k"/>
    <path d="M654,395.3 V402.6" class="k"/>
    <path d="M654.1,412.3 L684.4,417.1 L682,420.8 L655.3,428 Z" fill="#c8c8c8" class="k"/>
    <path d="M663.8,388 L676,388.5 L688,413 L745,412 M676,388.5 L683,381 L745,383 M707.4,391.7 L745,384.5 M707.4,391.7 L714.7,402.6 L745,401.5 M719,389.5 L725,402.3 M685.6,419.5 L720.8,419.5 M657.5,428 V478 M654.1,459.5 L668,462.5" stroke="#000" stroke-width="0.6" fill="none"/>
    <path d="M679.5,468 L705,471.7 L703.8,480 L678.3,480 Z" fill="#808080" class="k"/>
    <!-- nail guide -->
    <path d="M629.8,394 L632.5,391.1 L638.5,391.1 L638.5,400.4 L629.8,400.4 Z" fill="#909090" class="k"/>
    <use href="#ng" transform="translate(585.8,392.4) scale(1.055,1.096)"/>
    <!-- bolt -->
    <rect x="528" y="394.2" width="5.6" height="7.5" fill="#d4d4d4" stroke="#000" stroke-width="0.7"/>
    <rect x="533.4" y="390.1" width="2.6" height="15.9" fill="#d4d4d4" stroke="#000" stroke-width="0.7"/>
    <rect x="536" y="391" width="2.6" height="14" fill="#bdbdbd" stroke="#000" stroke-width="0.7"/>
    <rect x="566" y="394.2" width="5.5" height="7.5" rx="0.8" fill="#d4d4d4" stroke="#000" stroke-width="0.7"/>
    <path d="M538.6,394.5 L540.5,393 H566 L566.5,394 V401.6 L566,402.6 H540.5 L538.6,401.2 Z" fill="#111"/>
    <path d="M543,394.5 L545,401 M546.5,394.5 L548.5,401 M550,394.5 L552,401 M553.5,394.5 L555.5,401 M557,394.5 L559,401 M560.5,394.5 L562.5,401 M564,394.5 L565.5,401" stroke="#555" stroke-width="0.8"/>
  </g>
  <use href="#book" transform="translate(611,441) scale(0.873)"/>
  <text x="513.8" y="428.8" class="t" font-size="14.8" textLength="49.2" lengthAdjust="spacingAndGlyphs">X-BT-MR</text>
  <rect x="498" y="366.1" width="241.2" height="112.3" class="frame"/>
  <rect x="497" y="365.1" width="22.8" height="22.7" fill="#000"/>
  <text x="508.3" y="382" class="num" text-anchor="middle">9</text>
</g>

<!-- ================= PANEL 11b ================= -->
<g id="p11b">
  <clipPath id="c11"><rect x="751" y="3.9" width="360.2" height="206.1"/></clipPath>
  <clipPath id="c11d"><circle cx="1076.7" cy="150" r="30"/></clipPath>
  <g clip-path="url(#c11)">
    <rect x="751" y="185.9" width="360" height="3" fill="#9a9a9a"/>
    <rect x="751" y="188.4" width="360" height="18.9" fill="#000"/>
    <rect x="751" y="207.8" width="360" height="1" fill="#bbb"/>
    <!-- left gauge -->
    <use href="#gauge" transform="translate(858.2,186)"/>
    <rect x="852.4" y="188.3" width="12" height="13.5" fill="#c4c4c4"/>
    <path d="M852.4,201.5 H864.4 L863,205.5 H853.8 Z" fill="#fff"/>
    <!-- right gauge -->
    <use href="#gauge" transform="translate(993.3,186.5) rotate(-4.5)"/>
    <rect x="986" y="188.3" width="12" height="13.5" fill="#c4c4c4"/>
    <path d="M986,201.5 H998 L996.6,205.5 H987.4 Z" fill="#fff"/>
    <!-- dashed lines -->
    <g stroke="#cf1430" stroke-width="1" stroke-dasharray="6,2.8" fill="none">
      <path d="M846.7,66 L857.2,186 M858.3,66 V192"/>
      <path d="M971.7,66 L990,186 M993.3,66 V192"/>
    </g>
    <g stroke="#cf1430" stroke-width="1.3" fill="none">
      <path d="M841.5,64 Q853,55 864.5,64"/>
      <path d="M970,64 Q982,55 994.3,64"/>
    </g>
    <path d="M839.5,66.5 L841,60.8 L845,64.5 Z M866.5,66.5 L865,60.8 L861,64.5 Z M968,66.5 L969.5,60.8 L973.5,64.5 Z M996.3,66.5 L994.8,60.8 L990.8,64.5 Z" fill="#cf1430"/>
    <!-- red arrows and circles -->
    <g stroke="#cf1430" stroke-width="2" fill="none">
      <path d="M833.3,161.7 V178 M884,161.7 V178 M967.3,161.7 V178"/>
      <circle cx="833.3" cy="190" r="7"/><circle cx="884.3" cy="190" r="7"/><circle cx="967.3" cy="190" r="7"/>
    </g>
    <path d="M829.3,175 H837.3 L833.3,184.5 Z M880,175 H888 L884,184.5 Z M963.3,175 H971.3 L967.3,184.5 Z" fill="#cf1430"/>
    <!-- divider -->
    <path d="M930.7,67 V210" stroke="#000" stroke-width="1.8"/>
    <!-- check -->
    <use href="#chk" transform="translate(874,120.5) scale(0.977,0.975)" fill="#fff" stroke="#fff" stroke-width="2" stroke-linejoin="round"/>
    <use href="#chk" transform="translate(874,120.5) scale(0.977,0.975)" fill="#000"/>
    <!-- prohibition -->
    <circle cx="1023.4" cy="139.4" r="21.8" fill="#fff"/>
    <use href="#no" transform="translate(1023.4,139.4) scale(21)"/>
    <!-- detail circle -->
    <path d="M1020.3,181.5 L1049,162.5" stroke="#cf1430" stroke-width="1.6"/>
    <circle cx="1020.3" cy="181.5" r="4.8" fill="#d7101f"/>
    <circle cx="1076.7" cy="150" r="30" fill="#fff"/>
    <g clip-path="url(#c11d)">
      <rect x="1040" y="169.5" width="75" height="15" fill="#000"/>
      <rect x="1040" y="157.5" width="75" height="12" fill="#808080"/>
      <path d="M1040,132 L1058.5,126 V150 H1040 Z" fill="#8c8c8c" stroke="#000" stroke-width="0.6"/>
      <path d="M1058.5,115 H1095.5 V147.5 L1058.5,150.5 Z" fill="#c8c8c8" stroke="#000" stroke-width="0.8"/>
      <path d="M1044,150 H1050 Q1056,150.5 1056,154 Q1056,157.5 1050,157.5 H1044 Z" fill="#808080" stroke="#000" stroke-width="0.6"/>
    </g>
    <circle cx="1076.7" cy="150" r="30" fill="none" stroke="#cf1430" stroke-width="2"/>
  </g>
  <use href="#book" transform="translate(811.4,37.5)"/>
  <text x="850.5" y="39.6" class="t" font-size="14.8" textLength="93.5" lengthAdjust="spacingAndGlyphs">Inclination gauge</text>
  <text x="871" y="68.8" class="t" font-size="14.4" textLength="25" lengthAdjust="spacingAndGlyphs">≤ 5°</text>
  <text x="1002" y="68.8" class="t" font-size="14.4" textLength="24" lengthAdjust="spacingAndGlyphs">&gt; 5°</text>
  <text x="888.5" y="119.5" class="t" font-size="14" font-weight="bold" textLength="17" lengthAdjust="spacingAndGlyphs">3×</text>
  <rect x="751" y="3.9" width="360.2" height="206.1" class="frame"/>
  <rect x="750.2" y="2.9" width="22.7" height="21.8" fill="#000"/>
  <text x="761.8" y="19.1" class="num" text-anchor="middle" textLength="19.7" lengthAdjust="spacingAndGlyphs">11b</text>
</g>

<!-- ================= PANEL 12 ================= -->
<g id="p12">
  <clipPath id="c12"><rect x="751.5" y="223" width="359" height="194"/></clipPath>
  <clipPath id="c12c"><circle cx="801" cy="277" r="42.5"/></clipPath>
  <g clip-path="url(#c12)">
    <rect x="751" y="336.2" width="225" height="19.7" fill="#808080"/>
    <rect x="976" y="336.2" width="135" height="27.6" fill="#808080"/>
    <rect x="751" y="369" width="360" height="49" fill="#000"/>
    <rect x="976" y="367.5" width="135" height="2" fill="#000"/>
    <!-- left assembly -->
    <rect x="902.7" y="336.2" width="24.3" height="19.7" fill="#a8a8a8"/>
    <path d="M903.2,337 L926.2,338.9 L903.2,340.7 L926.2,342.6 L903.2,344.4 L926.2,346.2 L903.2,348.1 L926.2,350.0 L903.2,351.8 L926.2,353.7 L903.2,355.5 " fill="none" stroke="#222" stroke-width="1.7"/>
    <path d="M900.7,356 H928.7 L935.2,364 H894.2 Z" fill="#c4c4c4" stroke="#222" stroke-width="0.7"/>
    <path d="M888.2,366 Q886.2,366 886.7,363.5 L888.2,364.8 L894.2,364 H935.2 L941.2,364.8 L942.7,363.5 Q943.2,366 941.2,366 L938.7,369 H890.7 Z" fill="#c4c4c4" stroke="#222" stroke-width="0.7"/>
    <path d="M905.1,369 H925.1 V391 L922.7,393.8 H907.5 L905.1,391 Z" fill="#c4c4c4" stroke="#222" stroke-width="0.7"/>
    <path d="M907.5,393.8 H922.7 L920.7,397 L917.2,396 L915.3000000000001,398.5 L913.2,396 L910.2,397 Z" fill="#fff"/>
    <use href="#nut" transform="translate(914.7,336.2)"/>
    <!-- right assembly -->
    <rect x="1030.5" y="336.2" width="41" height="21" fill="#fff"/>
    <rect x="1039.5" y="336.2" width="24.3" height="21" fill="#a8a8a8"/>
    <path d="M1040.0,337 L1063.0,338.9 L1040.0,340.9 L1063.0,342.8 L1040.0,344.8 L1063.0,346.8 L1040.0,348.7 L1063.0,350.6 L1040.0,352.6 L1063.0,354.6 L1040.0,356.5 " fill="none" stroke="#222" stroke-width="1.7"/>
    <path d="M1037.5,357 H1065.5 L1072.0,365 H1031.0 Z" fill="#c4c4c4" stroke="#222" stroke-width="0.7"/>
    <path d="M1025.0,367 Q1023.0,367 1023.5,364.5 L1025.0,365.8 L1031.0,365 H1072.0 L1078.0,365.8 L1079.5,364.5 Q1080.0,367 1078.0,367 L1075.5,370 H1027.5 Z" fill="#c4c4c4" stroke="#222" stroke-width="0.7"/>
    <path d="M1041.9,370 H1061.9 V392 L1059.5,394.8 H1044.3 L1041.9,392 Z" fill="#c4c4c4" stroke="#222" stroke-width="0.7"/>
    <path d="M1044.3,394.8 H1059.5 L1057.5,398 L1054.0,397 L1052.1,399.5 L1050.0,397 L1047.0,398 Z" fill="#fff"/>
    <use href="#nut" transform="translate(1051.5,336.2)"/>
    <!-- white dimension -->
    <path d="M901.2,354.4 V409 M927.6,354.4 V409 M879,403.8 H894 M935,403.8 H950.3" stroke="#fff" stroke-width="1.3" fill="none"/>
    <path d="M892,400.3 L901.2,403.8 L892,407.3 Z M936.8,400.3 L927.6,403.8 L936.8,407.3 Z" fill="#fff"/>
    <!-- red detail circles -->
    <circle cx="895.8" cy="362.6" r="13.6" fill="none" stroke="#cf1430" stroke-width="1.6"/>
    <circle cx="1029.8" cy="367.5" r="13.8" fill="none" stroke="#cf1430" stroke-width="1.6"/>
    <!-- callout -->
    <path d="M801.3,319.5 V350.5" stroke="#cf1430" stroke-width="1.7"/>
    <circle cx="801.3" cy="350.5" r="4.6" fill="#d7101f"/>
    <circle cx="801" cy="277" r="42.5" fill="#fff"/>
    <g clip-path="url(#c12c)"><rect x="755" y="261.5" width="25" height="30.5" fill="#808080"/></g>
    <circle cx="801" cy="277" r="42.5" fill="none" stroke="#cf1430" stroke-width="1.7"/>
    <path d="M772,261.5 H788.5 M772,292 H788.5 M783.5,241 V313.5" stroke="#000" stroke-width="1.3" fill="none"/>
    <path d="M780.4,252 H786.6 L783.5,261 Z M780.4,301.5 H786.6 L783.5,292.5 Z" fill="#000"/>
    <rect x="830" y="269.5" width="28" height="24.5" fill="#fff"/>
    <!-- divider -->
    <path d="M976,223 V369" stroke="#000" stroke-width="1.8"/>
    <use href="#chk" transform="translate(926,232.8)" fill="#000"/>
    <use href="#no" transform="translate(1080.6,254.6) scale(20.8)"/>
  </g>
  <text x="790" y="275.5" class="t" font-size="14.1" textLength="48" lengthAdjust="spacingAndGlyphs">2-10 mm</text>
  <text class="t" font-size="11" y="290.6" textLength="66.5" lengthAdjust="spacingAndGlyphs"><tspan x="790" dy="-3.4" font-size="10">5</tspan><tspan dy="3.4" font-size="11">/64" - </tspan><tspan dy="-3.4" font-size="10">25</tspan><tspan dy="3.4" font-size="11">/64"</tspan></text>
  <text x="803" y="397.5" fill="#fff" font-weight="bold" font-size="14" textLength="82.5" lengthAdjust="spacingAndGlyphs">⌀ 6,5 - 6,7 mm</text>
  <rect x="751" y="223.1" width="360.2" height="194" class="frame"/>
  <rect x="750.2" y="221" width="22.7" height="22.5" fill="#000"/>
  <text x="762" y="238.3" class="num" text-anchor="middle" textLength="12.7" lengthAdjust="spacingAndGlyphs">12</text>
</g>

</svg>
</body>
</html>
